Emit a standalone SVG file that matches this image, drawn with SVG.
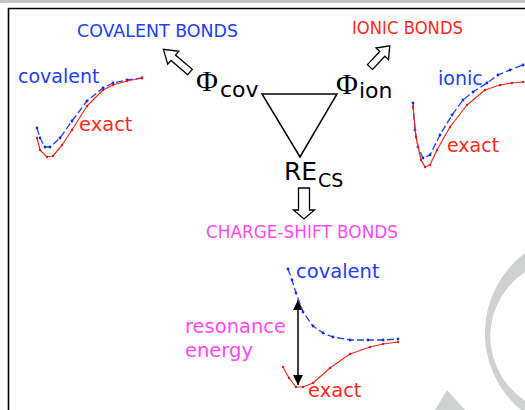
<svg xmlns="http://www.w3.org/2000/svg" width="525" height="410" viewBox="0 0 525 410">
<style>
.t{font-family:"DejaVu Sans",Verdana,sans-serif}
.phi{font-family:"Liberation Serif","Times New Roman",serif;font-size:30px;fill:#000}
.blue{fill:#2040f0}.red{fill:#ff2a1a}.mag{fill:#ff4af0}
.bc{fill:none;stroke:#2040f0;stroke-width:1.3;stroke-dasharray:7 3;stroke-linejoin:round;marker-start:url(#bd);marker-mid:url(#bd);marker-end:url(#bd)}
.rc{fill:none;stroke:#f22a1a;stroke-width:1.2;stroke-linejoin:round;marker-start:url(#rd);marker-mid:url(#rd);marker-end:url(#rd)}
.hollow{fill:#fff;stroke:#000;stroke-width:1.3;stroke-linejoin:miter}
.wm{fill:#d0d1d1}
</style>
<defs>
<marker id="ah" viewBox="0 0 10 10" refX="10" refY="5" markerWidth="10" markerHeight="11" markerUnits="userSpaceOnUse" orient="auto-start-reverse">
<path d="M0,0 L10,5 L0,10 z" fill="#000"/>
</marker>
<marker id="bd" viewBox="-2 -2 4 4" markerWidth="4" markerHeight="4" markerUnits="userSpaceOnUse">
<circle r="1.4" fill="#1030e0"/>
</marker>
<marker id="rd" viewBox="-2 -2 4 4" markerWidth="4" markerHeight="4" markerUnits="userSpaceOnUse">
<circle r="1.2" fill="#e01a10"/>
</marker>
</defs>
<rect x="0" y="0" width="525" height="3" fill="#c4c4c4"/>
<g id="watermark">
<path class="wm" d="M525,253 A100,100 0 0 0 521,410 L545,410 A77,77 0 0 1 525,272 Z"/>
<polygon class="wm" points="435,410 447,390 465,410"/>
</g>
<path d="M8.5,410 V8.5 H525" fill="none" stroke="#000" stroke-width="1.6"/>
<path d="M15,410 V15 H525" fill="none" stroke="#f2f2f2" stroke-width="1"/>

<g id="covalent-bonds">
<text class="t blue" x="77" y="37" font-size="17.5" textLength="161" lengthAdjust="spacingAndGlyphs">COVALENT BONDS</text>
</g>
<g id="ionic-bonds">
<text class="t red" x="352" y="34" font-size="17.5" textLength="111" lengthAdjust="spacingAndGlyphs">IONIC BONDS</text>
</g>
<g id="chargeshift-bonds">
<text class="t mag" x="206" y="238" font-size="17.5" textLength="192" lengthAdjust="spacingAndGlyphs">CHARGE-SHIFT BONDS</text>
</g>

<g id="triangle">
<polygon points="262,94 337,94 300,157" fill="none" stroke="#000" stroke-width="1.5"/>
</g>
<g id="phi-cov">
<text class="phi" x="196" y="91">Φ</text>
<text class="t" x="220" y="97" font-size="22">cov</text>
</g>
<g id="phi-ion">
<text class="phi" x="336" y="94">Φ</text>
<text class="t" x="359" y="98" font-size="22">ion</text>
</g>
<g id="re-cs">
<text class="t" x="284" y="180" font-size="25">RE</text>
<text class="t" x="318" y="187" font-size="19">CS</text>
</g>

<g id="connectors">
<polygon class="hollow" transform="translate(190,72) rotate(220.4)" points="0,-3.5 22,-3.5 22,-8.5 35,0 22,8.5 22,3.5 0,3.5"/>
<polygon class="hollow" transform="translate(370,67) rotate(-47)" points="0,-3.5 18,-3.5 18,-8.5 29,0 18,8.5 18,3.5 0,3.5"/>
<polygon class="hollow" transform="translate(304,188) rotate(90)" points="0,-5.5 22,-5.5 22,-10.5 31,0 22,10.5 22,5.5 0,5.5"/>
<line x1="298" y1="300" x2="298" y2="385" stroke="#000" stroke-width="1.5" marker-start="url(#ah)" marker-end="url(#ah)"/>
</g>

<g id="plot-covalent">
<polyline class="bc" points="37,128 40,138 45,147 50,147 60,138 72,121 87,101 103,88 113,83 127,80 142,78"/>
<polyline class="rc" points="37,138 40,150 47,157 53,156 62,145 72,130 87,106 103,90 113,85 127,81 142,78"/>
<text class="t blue" x="18" y="83" font-size="19">covalent</text>
<text class="t red" x="79" y="131" font-size="19.5">exact</text>
</g>

<g id="plot-ionic">
<polyline class="bc" points="413,103 415,130 418,147 423,158 430,155 440,135 452,115 463,100 473,92 487,83 498,75 510,70 523,65"/>
<polyline class="rc" points="413,107 416,137 421,160 425,167 430,165 437,150 450,127 467,105 485,90 500,85 512,83 523,82"/>
<text class="t blue" x="438" y="85" font-size="19">ionic</text>
<text class="t red" x="447" y="152" font-size="19">exact</text>
</g>

<g id="plot-chargeshift">
<polyline class="bc" points="288,269 292,280 296,293 303,312 313,326 323,333 333,337 350,340 368,340 383,340 398,339"/>
<polyline class="rc" points="283,367 289,378 296,387 303,387 313,383 330,368 350,354 370,347 383,344 398,342"/>
<text class="t blue" x="296" y="278" font-size="19.5">covalent</text>
<text class="t mag" x="185" y="333" font-size="19.5">resonance</text>
<text class="t mag" x="185" y="357" font-size="19.5">energy</text>
<text class="t red" x="308" y="397" font-size="19.5">exact</text>
</g>
</svg>
